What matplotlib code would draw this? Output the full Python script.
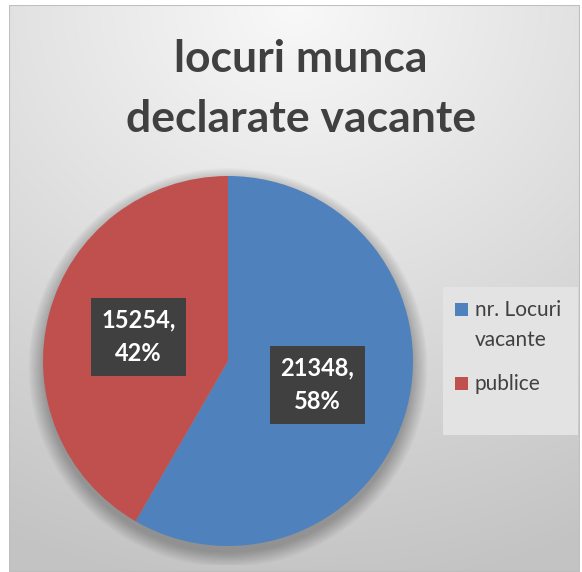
import numpy as np
import matplotlib
matplotlib.use("Agg")
from matplotlib import pyplot as plt
from matplotlib.patches import Rectangle, Circle

plt.rcParams['font.family'] = ['Lato', 'DejaVu Sans']

# datele graficului
categorii = ['nr. Locuri\nvacante', 'publice']
valori = [21348, 15254]
culori = ['#4f81bd', '#c0504d']
titlu = 'locuri munca\ndeclarate vacante'

fig = plt.figure(figsize=(5.82, 5.72), dpi=100)
W, H = 582, 572


def fx(px):
    return px / W


def fy(py):
    # pixeli numarati de sus
    return 1 - py / H


# fundal cu gradient (alb sus, gri jos)
bg = fig.add_axes([9 / W, 0, 571 / W, 567 / H])
yy, xx = np.mgrid[0:1:300j, 0:1:300j]
d = np.sqrt(((xx - 0.5) * 0.9) ** 2 + (yy - 1.0) ** 2)
val = 0.975 - 0.21 * np.clip(d / 1.05, 0, 1)
img = np.dstack([val, val, val])
bg.imshow(img, extent=[0, 1, 0, 1], origin='lower', aspect='auto')
bg.add_patch(Rectangle((0, 0), 1, 1, fill=False, edgecolor='#bfbfbf', lw=1.5))
bg.set_xlim(0, 1)
bg.set_ylim(0, 1)
bg.axis('off')

# axa pentru placinta
cx, cy, r = 228, 361, 185
ax = fig.add_axes([(cx - r * 1.1) / W, (H - cy - r * 1.1) / H, 2.2 * r / W, 2.2 * r / H])

# umbra difuza sub placinta
for i in range(14):
    ax.add_patch(Circle((0.0, -0.035), 1.0 + 0.006 * i, color='black',
                        alpha=0.018, lw=0, zorder=0))

total = sum(valori)


def eticheta(pct):
    v = int(round(pct * total / 100))
    return f'{v},\n{pct:.0f}%'


wedges, texts, autotexts = ax.pie(valori, colors=culori, startangle=90, counterclock=False,
                                  autopct=eticheta, pctdistance=0.5, radius=1.0,
                                  wedgeprops=dict(linewidth=0, zorder=2))
for t in autotexts:
    t.set_color('white')
    t.set_fontsize(17)
    t.set_fontweight('bold')
    t.set_linespacing(1.55)
    t.set_zorder(5)
    t.set_bbox(dict(boxstyle='square,pad=0.45', facecolor='#404040', edgecolor='none'))
ax.set_aspect('equal')
ax.set_xlim(-1.1, 1.1)
ax.set_ylim(-1.1, 1.1)

fig.text(301 / W, 1 - 89 / H, titlu, ha='center', va='center', fontsize=32,
         fontweight='bold', color='#404040', linespacing=1.6)

# legenda desenata manual: patratul aliniat cu primul rand al etichetei
fig.add_artist(Rectangle((fx(443), fy(435)), fx(135), 148 / H, transform=fig.transFigure,
                         facecolor='#e3e3e3', edgecolor='none', zorder=3))
baza = 316
for cat, col in zip(categorii, culori):
    fig.add_artist(Rectangle((fx(455), fy(baza)), fx(13), 13 / H,
                             transform=fig.transFigure, facecolor=col,
                             edgecolor='none', zorder=4))
    for rand in cat.split('\n'):
        fig.text(fx(475), fy(baza), rand, ha='left', va='baseline', fontsize=15,
                 color='#404040', zorder=4)
        baza += 30
    baza += 14

fig.savefig('out.png', dpi=100)
